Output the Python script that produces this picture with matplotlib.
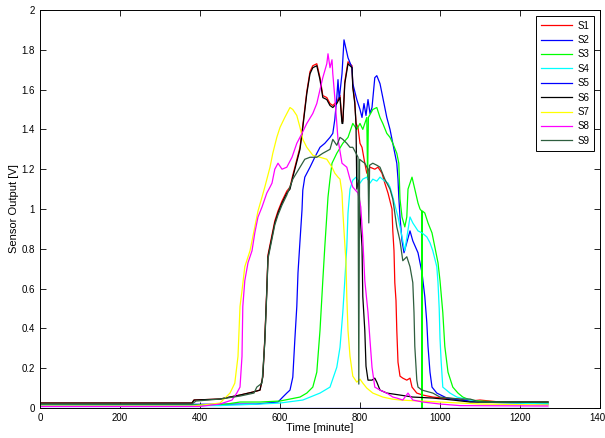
import matplotlib
matplotlib.use('Agg')
import matplotlib.pyplot as plt

plt.rcParams['font.family'] = ['Liberation Sans', 'DejaVu Sans']

# values (time in minutes, output in volts)
s1_t = [0, 380, 385, 450, 500, 532, 550, 557, 562, 567, 570, 580, 587, 595, 605, 617, 625, 632,
        650, 657, 667, 675, 682, 692, 700, 707, 717, 725, 732, 742, 750, 755, 757, 762, 770, 780,
        782, 787, 790, 795, 800, 805, 812, 817, 825, 837, 845, 855, 862, 870, 880, 882, 885, 887,
        890, 892, 895, 900, 907, 917, 925, 930, 942, 957, 982, 1007, 1050, 1075, 1100, 1125, 1150, 1270]
s1_v = [0.025, 0.025, 0.04, 0.045, 0.065, 0.08, 0.09, 0.16, 0.35, 0.6, 0.77, 0.87, 0.94, 0.99, 1.04, 1.09, 1.11, 1.17,
        1.31, 1.42, 1.59, 1.69, 1.72, 1.73, 1.66, 1.57, 1.56, 1.53, 1.52, 1.54, 1.57, 1.44, 1.44, 1.64, 1.74, 1.72,
        1.62, 1.54, 1.43, 1.41, 1.33, 1.31, 1.23, 1.18, 1.21, 1.20, 1.21, 1.18, 1.13, 1.08, 1.0, 0.89, 0.79, 0.63,
        0.54, 0.39, 0.23, 0.16, 0.15, 0.14, 0.15, 0.105, 0.075, 0.065, 0.055, 0.05, 0.045, 0.035, 0.04, 0.035, 0.03, 0.03]

s2_t = [0, 540, 595, 607, 617, 625, 632, 637, 642, 645, 650, 655, 657, 662, 675, 687, 700, 712, 725, 732,
        737, 742, 745, 748, 755, 760, 770, 780, 782, 792, 800, 805, 810, 815, 820, 825, 830, 837, 842, 850,
        857, 867, 875, 882, 892, 895, 897, 900, 905, 910, 925, 932, 945, 955, 962, 967, 970, 975, 980, 992,
        1017, 1050, 1075, 1100, 1270]
s2_v = [0.015, 0.02, 0.03, 0.055, 0.075, 0.09, 0.155, 0.34, 0.51, 0.68, 0.84, 0.995, 1.095, 1.16, 1.21, 1.26, 1.31, 1.33, 1.36, 1.38,
        1.45, 1.56, 1.65, 1.55, 1.68, 1.85, 1.76, 1.71, 1.63, 1.55, 1.50, 1.46, 1.53, 1.47, 1.55, 1.48, 1.51, 1.66, 1.67, 1.63,
        1.56, 1.46, 1.40, 1.33, 1.23, 1.15, 1.06, 0.96, 0.84, 0.78, 0.89, 0.84, 0.78, 0.68, 0.56, 0.43, 0.31, 0.18, 0.105, 0.075,
        0.05, 0.04, 0.035, 0.03, 0.02]

s3_t = [0, 450, 500, 550, 600, 625, 650, 667, 682, 692, 700, 707, 712, 720, 725, 730, 742, 757, 770, 782,
        792, 800, 807, 817, 819, 821, 832, 842, 850, 857, 867, 875, 882, 892, 897, 900, 905, 912, 917, 920,
        930, 937, 945, 950, 954, 955, 956, 962, 970, 980, 987, 995, 1000, 1007, 1012, 1020, 1032, 1045, 1057,
        1075, 1100, 1150, 1270]
s3_v = [0.015, 0.015, 0.03, 0.03, 0.035, 0.045, 0.055, 0.075, 0.105, 0.18, 0.39, 0.64, 0.81, 1.06, 1.15, 1.23, 1.28, 1.33, 1.36, 1.43,
        1.40, 1.43, 1.40, 1.46, 1.15, 1.46, 1.50, 1.51, 1.46, 1.43, 1.38, 1.36, 1.33, 1.28, 1.23, 1.05, 0.96, 0.91, 0.96, 1.10,
        1.16, 1.10, 1.03, 1.0, 0.99, 0.0, 0.99, 0.98, 0.93, 0.88, 0.81, 0.73, 0.64, 0.48, 0.31, 0.18, 0.105, 0.075, 0.055,
        0.04, 0.035, 0.03, 0.025]

s4_t = [0, 450, 550, 600, 657, 700, 725, 742, 750, 757, 762, 767, 770, 775, 782, 790, 800, 807, 817, 825,
        832, 842, 850, 862, 870, 875, 882, 895, 905, 912, 925, 932, 945, 955, 967, 975, 982, 992, 995, 998,
        1000, 1003, 1007, 1025, 1042, 1075, 1100, 1270]
s4_v = [0.012, 0.012, 0.02, 0.025, 0.04, 0.075, 0.105, 0.205, 0.305, 0.48, 0.64, 0.81, 0.98, 1.10, 1.145, 1.16, 1.13, 1.15, 1.16, 1.13,
        1.15, 1.14, 1.16, 1.14, 1.13, 1.11, 1.06, 0.96, 0.86, 0.79, 0.96, 0.93, 0.89, 0.88, 0.86, 0.83, 0.79, 0.71, 0.63, 0.5,
        0.35, 0.23, 0.105, 0.075, 0.055, 0.04, 0.03, 0.02]

s5_t = [0, 1270]
s5_v = [0.0, 0.0]

s6_t = [0, 380, 385, 450, 500, 532, 550, 557, 562, 567, 570, 580, 587, 595, 605, 617, 625, 632,
        650, 657, 667, 675, 682, 692, 700, 707, 717, 725, 732, 742, 750, 755, 757, 762, 770, 780,
        782, 787, 790, 792, 797, 800, 805, 807, 812, 815, 820, 830, 837, 842, 850, 867, 900, 932,
        982, 1032, 1075, 1270]
s6_v = [0.025, 0.025, 0.04, 0.045, 0.065, 0.08, 0.09, 0.155, 0.34, 0.59, 0.76, 0.86, 0.93, 0.98, 1.03, 1.08, 1.10, 1.16,
        1.30, 1.41, 1.58, 1.68, 1.71, 1.72, 1.65, 1.56, 1.55, 1.52, 1.51, 1.53, 1.56, 1.43, 1.43, 1.63, 1.73, 1.71,
        1.61, 1.53, 1.43, 1.10, 1.145, 0.98, 0.81, 0.56, 0.39, 0.21, 0.14, 0.14, 0.15, 0.13, 0.09, 0.075, 0.065, 0.055,
        0.05, 0.04, 0.03, 0.03]

s7_t = [0, 380, 430, 450, 475, 487, 495, 500, 505, 512, 525, 537, 545, 555, 562, 575, 582, 592, 600, 612,
        625, 632, 642, 650, 657, 667, 682, 700, 717, 730, 737, 745, 750, 755, 757, 760, 765, 767, 770, 775,
        782, 792, 800, 807, 817, 832, 857, 880, 900, 950, 1000, 1050, 1100, 1270]
s7_v = [0.01, 0.01, 0.02, 0.025, 0.075, 0.125, 0.26, 0.51, 0.59, 0.71, 0.79, 0.91, 0.99, 1.06, 1.11, 1.21, 1.28, 1.36, 1.41, 1.46,
        1.51, 1.50, 1.47, 1.41, 1.35, 1.31, 1.27, 1.26, 1.25, 1.21, 1.18, 1.16, 1.15, 1.08, 0.99, 0.89, 0.73, 0.56, 0.39, 0.26,
        0.16, 0.13, 0.145, 0.125, 0.1, 0.075, 0.055, 0.045, 0.04, 0.035, 0.03, 0.025, 0.02, 0.015]

s8_t = [0, 400, 450, 480, 492, 500, 505, 507, 512, 520, 530, 537, 545, 555, 567, 575, 580, 587, 595, 605,
        617, 630, 642, 655, 667, 682, 692, 700, 707, 717, 720, 725, 730, 732, 737, 742, 745, 755, 767, 775,
        782, 795, 802, 807, 812, 820, 825, 830, 837, 850, 867, 882, 892, 907, 920, 932, 957, 1000, 1050, 1270]
s8_v = [0.008, 0.008, 0.02, 0.04, 0.075, 0.105, 0.26, 0.51, 0.64, 0.73, 0.79, 0.88, 0.96, 1.01, 1.08, 1.11, 1.13, 1.20, 1.23, 1.20,
        1.21, 1.26, 1.33, 1.38, 1.43, 1.48, 1.53, 1.60, 1.66, 1.73, 1.78, 1.71, 1.75, 1.68, 1.56, 1.43, 1.35, 1.23, 1.21, 1.15,
        1.11, 1.08, 1.01, 0.85, 0.64, 0.48, 0.34, 0.205, 0.105, 0.09, 0.075, 0.055, 0.05, 0.04, 0.075, 0.04, 0.03, 0.02, 0.012, 0.01]

s9_t = [0, 380, 390, 450, 500, 535, 542, 555, 562, 567, 570, 580, 587, 595, 605, 617, 632, 650, 662, 675,
        692, 707, 725, 732, 742, 750, 757, 767, 775, 782, 790, 795, 797, 799, 805, 812, 820, 822, 824, 832,
        842, 850, 862, 875, 882, 892, 900, 907, 917, 925, 932, 935, 937, 942, 945, 955, 982, 1000, 1050, 1075, 1100, 1270]
s9_v = [0.02, 0.02, 0.035, 0.045, 0.06, 0.075, 0.105, 0.125, 0.33, 0.58, 0.75, 0.85, 0.92, 0.97, 1.02, 1.07, 1.15, 1.21, 1.25, 1.26,
        1.26, 1.28, 1.30, 1.35, 1.32, 1.36, 1.35, 1.33, 1.31, 1.31, 1.28, 1.26, 0.12, 1.25, 1.24, 1.23, 1.20, 0.93, 1.22, 1.23,
        1.22, 1.21, 1.15, 1.10, 1.05, 0.91, 0.84, 0.74, 0.76, 0.71, 0.63, 0.48, 0.31, 0.14, 0.105, 0.09, 0.075, 0.055, 0.045, 0.045, 0.03, 0.03]

series = [
    ('S1', s1_t, s1_v, '#ff0000'),
    ('S2', s2_t, s2_v, '#0000ff'),
    ('S3', s3_t, s3_v, '#00ff00'),
    ('S4', s4_t, s4_v, '#00ffff'),
    ('S5', s5_t, s5_v, '#0000ff'),
    ('S6', s6_t, s6_v, '#000000'),
    ('S7', s7_t, s7_v, '#ffff00'),
    ('S8', s8_t, s8_v, '#ff00ff'),
    ('S9', s9_t, s9_v, '#2e5e3e'),
]

fig = plt.figure(figsize=(6.05, 4.38), dpi=100)
ax = fig.add_axes([40 / 605, 1 - 408 / 438, 560 / 605, 398 / 438])

for name, t, v, col in series:
    ax.plot(t, v, color=col, linewidth=0.9, label=name)

ax.set_xlim(0, 1400)
ax.set_ylim(0, 2)
ax.set_xticks(range(0, 1401, 200))
ax.set_yticks([0, 0.2, 0.4, 0.6, 0.8, 1, 1.2, 1.4, 1.6, 1.8, 2])
ax.set_yticklabels(['0', '0.2', '0.4', '0.6', '0.8', '1', '1.2', '1.4', '1.6', '1.8', '2'])
ax.tick_params(direction='in', top=True, right=True, labelsize=7, length=4, width=0.6)
for sp in ax.spines.values():
    sp.set_linewidth(0.7)

ax.set_xlabel('Time [minute]', fontsize=8, labelpad=0)
ax.set_ylabel('Sensor Output [V]', fontsize=8, labelpad=2)

leg = ax.legend(loc='upper right', fontsize=7, handlelength=3.2, handletextpad=0.5,
                labelspacing=0.45, borderaxespad=0.6, fancybox=False, framealpha=1,
                borderpad=0.5)
leg.get_frame().set_edgecolor('black')
leg.get_frame().set_linewidth(0.7)

fig.savefig('out.png', dpi=100)
